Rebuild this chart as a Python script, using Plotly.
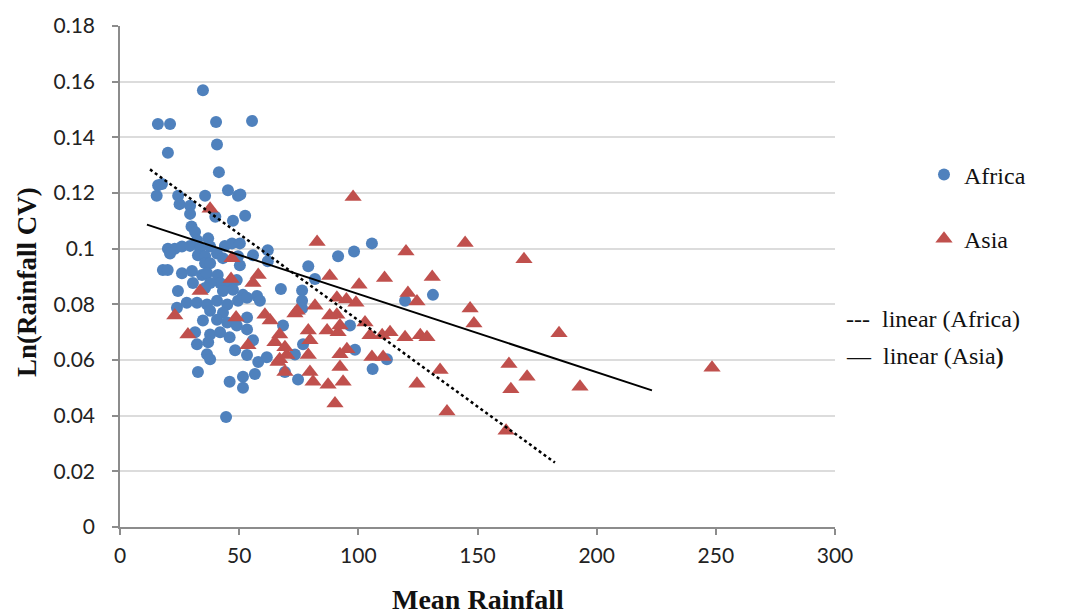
import plotly.graph_objects as go

# Africa: mean rainfall vs ln(rainfall CV)
africa_x = [15.9, 21.0, 34.8, 40.3, 55.4, 40.7, 20.1, 41.5, 16.0, 17.6,
            15.4, 24.4, 25.0, 29.4, 35.7, 45.3, 49.5, 50.5, 29.4, 30.0,
            31.5, 47.4, 52.5, 40.0, 37.0, 32.3, 20.1, 23.0, 26.0, 29.4,
            33.6, 37.8, 44.0, 47.0, 50.3, 21.0, 32.7, 35.7, 40.7, 43.2,
            49.5, 55.8, 62.0, 35.7, 37.8, 50.3, 18.0, 20.0, 26.0, 30.2,
            34.4, 36.5, 41.0, 42.0, 45.0, 49.0, 30.6, 37.8, 24.3, 35.7,
            47.4, 51.6, 67.5, 43.2, 57.5, 23.9, 28.0, 32.3, 36.5, 40.7,
            45.0, 49.5, 53.3, 58.7, 37.8, 43.2, 34.8, 40.7, 45.0, 49.0,
            53.3, 31.5, 37.8, 42.0, 46.0, 53.3, 32.3, 37.0, 48.3, 53.3,
            55.8, 36.5, 37.8, 58.0, 61.6, 32.7, 46.0, 51.6, 51.6, 56.6,
            44.5, 76.4, 76.4, 76.4, 119.6, 131.3, 68.4, 76.8, 73.4, 96.5,
            98.6, 112.0, 106.0, 74.7, 69.2, 62.0, 79.0, 91.5, 98.2, 105.7,
            81.8]
africa_y = [0.1448, 0.1448, 0.1569, 0.1455, 0.1459, 0.1374, 0.1345, 0.1275, 0.1228, 0.1232,
            0.1190, 0.1190, 0.1160, 0.1154, 0.1190, 0.1210, 0.1190, 0.1195, 0.1125, 0.1080,
            0.1060, 0.1100, 0.1118, 0.1115, 0.1037, 0.1030, 0.1000, 0.1000, 0.1008, 0.1010,
            0.1000, 0.1008, 0.1010, 0.1019, 0.1019, 0.0983, 0.0976, 0.0973, 0.0983, 0.0966,
            0.0973, 0.0976, 0.0994, 0.0948, 0.0948, 0.0940, 0.0923, 0.0923, 0.0912, 0.0920,
            0.0905, 0.0912, 0.0905, 0.0877, 0.0870, 0.0887, 0.0877, 0.0877, 0.0848, 0.0859,
            0.0852, 0.0834, 0.0855, 0.0848, 0.0830, 0.0788, 0.0806, 0.0806, 0.0799, 0.0813,
            0.0799, 0.0813, 0.0824, 0.0813, 0.0777, 0.0770, 0.0742, 0.0745, 0.0735, 0.0724,
            0.0753, 0.0700, 0.0692, 0.0700, 0.0682, 0.0710, 0.0657, 0.0664, 0.0635, 0.0618,
            0.0671, 0.0621, 0.0603, 0.0593, 0.0610, 0.0557, 0.0522, 0.0540, 0.0500, 0.0550,
            0.0395, 0.0850, 0.0813, 0.0785, 0.0813, 0.0834, 0.0724, 0.0657, 0.0620, 0.0724,
            0.0637, 0.0603, 0.0568, 0.0530, 0.0557, 0.0955, 0.0937, 0.0973, 0.0990, 0.1019,
            0.0891]

# Asia: mean rainfall vs ln(rainfall CV)
asia_x = [37.8, 97.8, 82.7, 120.0, 144.8, 169.5, 47.0, 46.6, 58.0, 55.8,
          33.6, 88.0, 111.0, 131.0, 100.3, 120.8, 124.6, 91.0, 95.0, 99.0,
          81.8, 74.3, 60.8, 63.0, 88.0, 86.9, 91.5, 102.8, 104.9, 110.0,
          113.3, 119.6, 126.0, 128.8, 79.0, 67.0, 65.0, 69.2, 79.7, 67.0,
          70.0, 79.0, 92.3, 95.2, 105.7, 110.4, 69.2, 79.7, 81.0, 87.3,
          93.6, 92.3, 124.6, 134.3, 90.2, 137.2, 146.9, 148.5, 184.2, 163.2,
          170.8, 164.0, 193.0, 248.4, 162.0, 23.0, 28.5, 48.7, 53.7, 66.3,
          73.4, 91.0, 92.3]
asia_y = [0.1143, 0.1186, 0.1024, 0.0990, 0.1020, 0.0962, 0.0966, 0.0891, 0.0905, 0.0877,
          0.0848, 0.0902, 0.0895, 0.0898, 0.0870, 0.0841, 0.0810, 0.0824, 0.0817, 0.0806,
          0.0795, 0.0777, 0.0763, 0.0742, 0.0760, 0.0706, 0.0700, 0.0735, 0.0689, 0.0689,
          0.0700, 0.0682, 0.0689, 0.0682, 0.0706, 0.0692, 0.0664, 0.0646, 0.0671, 0.0603,
          0.0618, 0.0618, 0.0621, 0.0639, 0.0611, 0.0611, 0.0557, 0.0557, 0.0522, 0.0511,
          0.0522, 0.0575, 0.0515, 0.0564, 0.0444, 0.0415, 0.0785, 0.0731, 0.0696, 0.0586,
          0.0540, 0.0495, 0.0504, 0.0572, 0.0346, 0.0760, 0.0692, 0.0753, 0.0653, 0.0593,
          0.0767, 0.0763, 0.0724]

# Linear trend fits: [slope, intercept] and the x extent of each fitted line
africa_fit = [-0.00062, 0.1363]
africa_fit_x = [12.6, 182.5]
asia_fit = [-0.000281, 0.1118]
asia_fit_x = [11.3, 223.2]

x_ticks = [0, 50, 100, 150, 200, 250, 300]
y_ticks = [0, 0.02, 0.04, 0.06, 0.08, 0.1, 0.12, 0.14, 0.16, 0.18]
y_tick_text = ["0", "0.02", "0.04", "0.06", "0.08", "0.1", "0.12", "0.14", "0.16", "0.18"]

BLUE = "#4F81BD"
RED = "#C0504D"
SERIF = "Liberation Serif, Times New Roman, serif"
SANS = "Lato, Open Sans, sans-serif"


def fit_line(fit, xs):
    return [fit[0] * x + fit[1] for x in xs]


fig = go.Figure()

fig.add_trace(go.Scatter(
    x=africa_x, y=africa_y, mode="markers", name="Africa",
    marker=dict(symbol="circle", size=12, color=BLUE, line=dict(width=0)),
    legendgroup="africa",
))
fig.add_trace(go.Scatter(
    x=asia_x, y=asia_y, mode="markers", name="Asia",
    marker=dict(symbol="triangle-up", size=15, color=RED, line=dict(width=0)),
    legendgroup="asia",
))
fig.add_trace(go.Scatter(
    x=africa_fit_x, y=fit_line(africa_fit, africa_fit_x), mode="lines",
    line=dict(color="black", width=2.5, dash="dot"),
    showlegend=False, hoverinfo="skip",
))
fig.add_trace(go.Scatter(
    x=asia_fit_x, y=fit_line(asia_fit, asia_fit_x), mode="lines",
    line=dict(color="black", width=2),
    showlegend=False, hoverinfo="skip",
))

# plot area in pixels: x 120..835, y 20..527
L, R, T, B = 120, 242, 20, 87
W, H = 1077, 614
PW, PH = W - L - R, H - T - B


def px_x(p):
    return (p - L) / PW


def px_y(p):
    return (H - B - p) / PH


annotations = [
    dict(text="<b>Ln(Rainfall CV)</b>", textangle=-90, x=px_x(27), y=px_y(279),
         xref="paper", yref="paper", showarrow=False, xanchor="center", yanchor="middle",
         font=dict(family=SERIF, size=27, color="#111")),
    dict(text="<b>Mean Rainfall</b>", x=px_x(478), y=px_y(600),
         xref="paper", yref="paper", showarrow=False, xanchor="center", yanchor="middle",
         font=dict(family=SERIF, size=28, color="#111")),
    dict(text="---  linear (Africa)", x=px_x(844), y=px_y(317),
         xref="paper", yref="paper", showarrow=False, xanchor="left", yanchor="middle",
         font=dict(family=SERIF, size=24, color="#111")),
    dict(text="—  linear (Asia<b>)</b>", x=px_x(844), y=px_y(354),
         xref="paper", yref="paper", showarrow=False, xanchor="left", yanchor="middle",
         font=dict(family=SERIF, size=24, color="#111")),
]

fig.update_layout(
    width=W, height=H, autosize=False,
    margin=dict(l=L, r=R, t=T, b=B),
    paper_bgcolor="white", plot_bgcolor="white",
    annotations=annotations,
    legend=dict(
        x=px_x(924), y=px_y(148), xanchor="left", yanchor="top",
        font=dict(family=SERIF, size=24, color="#111"),
        tracegroupgap=30, bgcolor="rgba(0,0,0,0)",
    ),
    showlegend=True,
)

fig.update_xaxes(
    range=[0, 300], tickvals=x_ticks, showgrid=False, zeroline=False,
    showline=True, linecolor="#8c8c8c", linewidth=1.5,
    ticks="outside", ticklen=6, tickcolor="#8c8c8c", tickwidth=1.5,
    tickfont=dict(family=SANS, size=21, color="#222"), ticklabelstandoff=3,
)
fig.update_yaxes(
    range=[0, 0.18], tickvals=y_ticks, ticktext=y_tick_text,
    showgrid=True, gridcolor="#dcdcdc", gridwidth=1.5, zeroline=False,
    showline=True, linecolor="#8c8c8c", linewidth=1.5,
    ticks="outside", ticklen=6, tickcolor="#8c8c8c", tickwidth=1.5,
    tickfont=dict(family=SANS, size=21, color="#222"), ticklabelstandoff=13,
)

fig.write_html("out.html")
